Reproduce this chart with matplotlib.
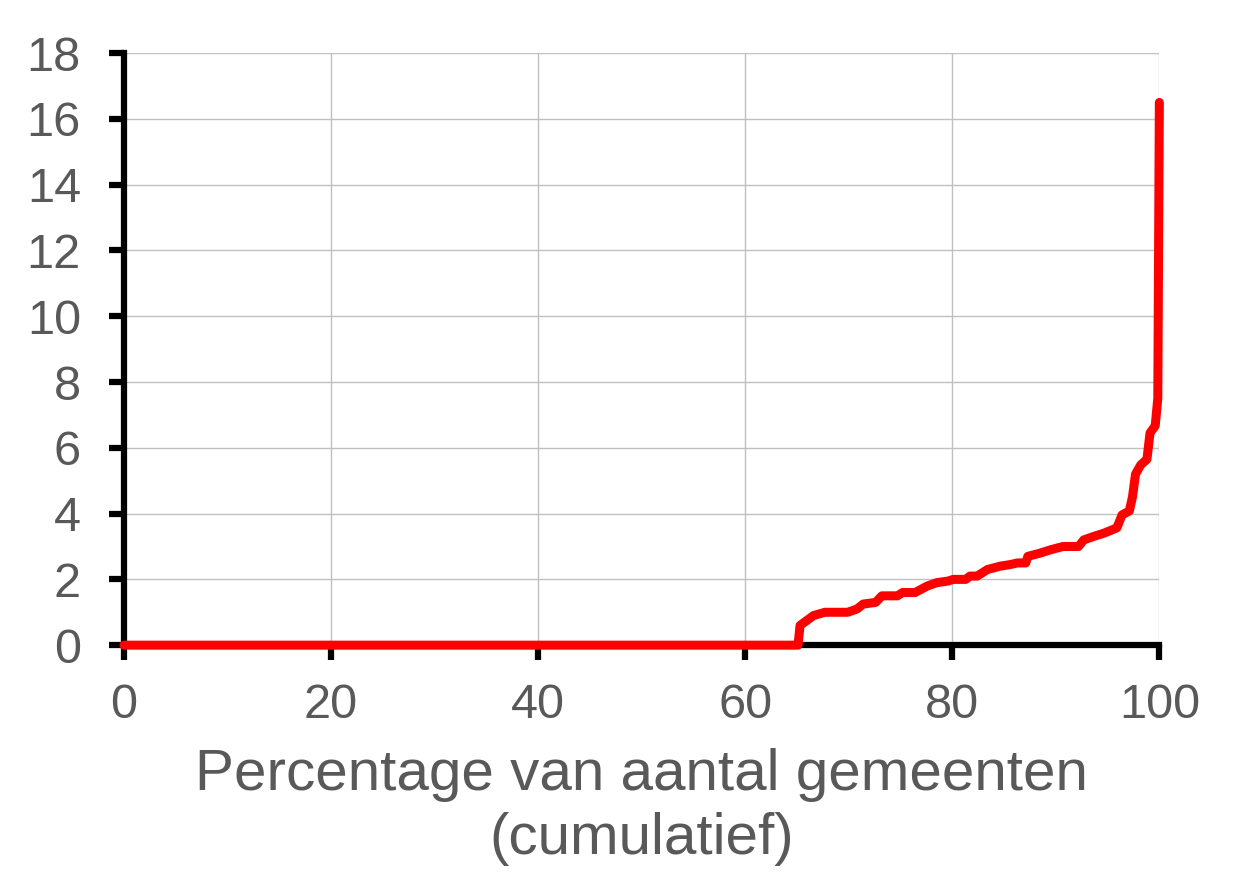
import numpy as np
import matplotlib
matplotlib.use("Agg")
import matplotlib.pyplot as plt

# cumulative share of municipalities (%) and the value reached there
pct = [0, 65.1, 65.3, 66.6, 67.7, 69.9, 70.8, 71.4, 72.6, 73.2, 74.7, 75.2, 76.4,
       77.6, 78.5, 79.6, 80.1, 81.3, 81.7, 82.4, 83.4, 84.6, 85.6, 86.3, 87.1,
       87.3, 88.5, 89.5, 90.7, 92.2, 92.7, 93.6, 94.6, 95.4, 95.9, 96.4, 97.1,
       97.4, 97.7, 98.2, 98.8, 99.1, 99.6, 99.85, 100]
waarde = [0, 0, 0.6, 0.9, 1.0, 1.0, 1.1, 1.25, 1.3, 1.5, 1.5, 1.6, 1.6,
          1.8, 1.9, 1.95, 2.0, 2.0, 2.1, 2.1, 2.3, 2.4, 2.45, 2.5, 2.5,
          2.7, 2.8, 2.9, 3.0, 3.0, 3.2, 3.3, 3.4, 3.5, 3.57, 3.96, 4.08,
          4.5, 5.2, 5.48, 5.65, 6.45, 6.67, 7.5, 16.5]

xticks = [0, 20, 40, 60, 80, 100]
yticks = [0, 2, 4, 6, 8, 10, 12, 14, 16, 18]

plt.rcParams['font.family'] = ['Liberation Sans', 'DejaVu Sans']

fig = plt.figure(figsize=(12.52, 8.85), dpi=100)
ax = fig.add_axes([0.099, 0.271, 0.827, 0.669])

ax.plot(pct, waarde, color='#ff0000', lw=6.5, solid_capstyle='round',
        solid_joinstyle='round', zorder=3, clip_on=False)

ax.set_xlim(0, 100)
ax.set_ylim(0, 18)
ax.set_xticks(xticks)
ax.set_yticks(yticks)
ax.grid(True, color='#c0c0c0', lw=1)
ax.set_axisbelow(True)

for s in ['top', 'right']:
    ax.spines[s].set_visible(False)
for s in ['left', 'bottom']:
    ax.spines[s].set_linewidth(4.5)
    ax.spines[s].set_color('black')
    ax.spines[s].set_capstyle('projecting')

ax.tick_params(axis='both', direction='out', length=11, width=4.5,
               labelsize=35, labelcolor='#595959', color='black')
ax.tick_params(axis='x', pad=16)
ax.tick_params(axis='y', pad=20)

ax.set_xlabel('Percentage van aantal gemeenten\n(cumulatief)', fontsize=42,
              color='#595959', labelpad=15, linespacing=1.23)

fig.savefig('out.png', dpi=100)
